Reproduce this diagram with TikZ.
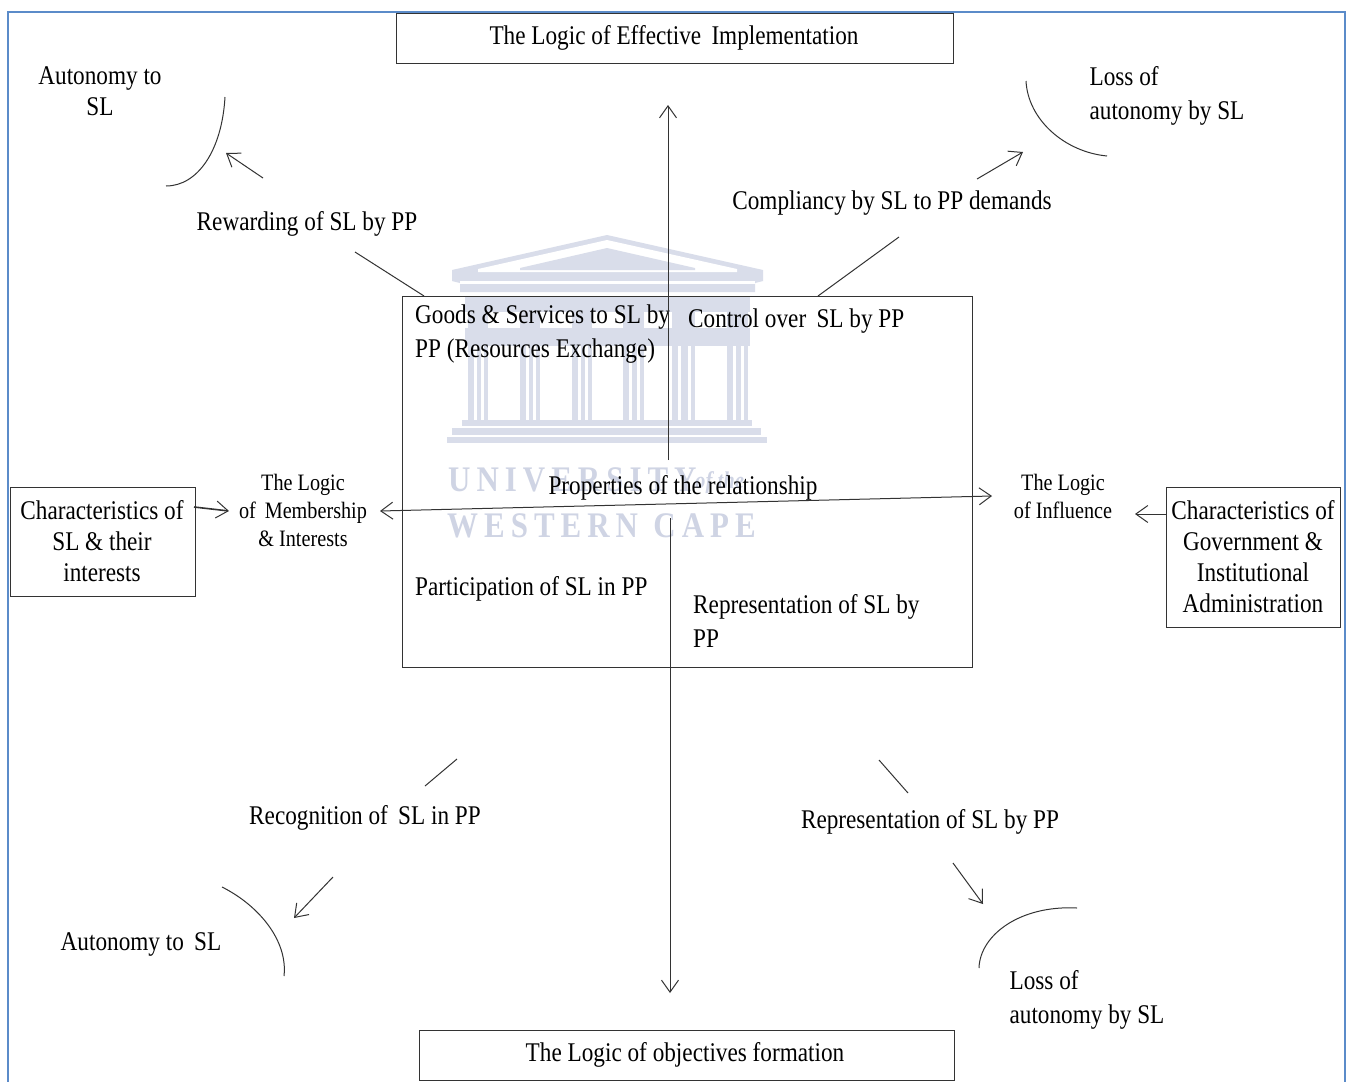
\documentclass[tikz,border=0pt]{standalone}
\usepackage{fontspec}
\setmainfont[FakeStretch=0.86]{Liberation Serif}
\usetikzlibrary{arrows.meta}
\definecolor{wm}{HTML}{D9DDEA}
\definecolor{wmtxt}{HTML}{CFD4E4}
\definecolor{frameblue}{HTML}{5B8BC9}
\definecolor{ink}{HTML}{333333}
\tikzset{
  lbl/.style={text=black,inner sep=0pt,align=left,font=\fontsize{27}{34}\selectfont},
  lblc/.style={text=black,inner sep=0pt,align=center,font=\fontsize{27}{31}\selectfont},
  small/.style={text=black,inner sep=0pt,align=center,font=\fontsize{23.5}{28}\selectfont},
  boxed/.style={draw=ink,line width=1pt,inner sep=0pt,anchor=north west},
  conn/.style={draw=ink,line width=1pt},
  arr/.style={conn,-{Straight Barb[length=12pt,width=17pt,line width=1pt]}},
  darr/.style={conn,{Straight Barb[length=12pt,width=17pt,line width=1pt]}-{Straight Barb[length=12pt,width=17pt,line width=1pt]}},
  curve/.style={draw=ink,line width=1pt},
  wmfill/.style={fill=wm,draw=none},
  wmt/.style={text=wmtxt,inner sep=0pt,font=\fontsize{36}{36}\selectfont\bfseries}
}
\begin{document}
\begin{tikzpicture}[x=1pt,y=-1pt]
\useasboundingbox (0,0) rectangle (1350,1082);
\fill[white] (0,0) rectangle (1350,1082);
% watermark
\fill[wm] (452,270) -- (607,235) -- (763,270) -- (763,281) -- (755,283) -- (755,292) -- (460,292) -- (460,283) -- (452,281) -- cycle;
\fill[white] (478,269) -- (607,240) -- (737,269) -- (737,272) -- (478,272) -- cycle;
\fill[wm] (520,268) -- (607,248) -- (695,268) -- (695,270) -- (520,270) -- cycle;
\fill[white] (460,281) rectangle (755,284);
\foreach \a/\b in {468/488,520/540,572/592,623/644,672/695,727/748}{
  \fill[wm] (\a,297) rectangle (\b,420);
  \fill[white] (\a+6,345) rectangle (\a+9,420);
  \fill[white] (\b-7,345) rectangle (\b-4,420);
}
\fill[wm] (465,297) rectangle (750,312);
\fill[wm] (465,328) rectangle (750,346);
\fill[wm] (462,420) rectangle (752,426);
\fill[wm] (452,428) rectangle (761,435);
\fill[wm] (447,437) rectangle (767,443);
\node[wmt,anchor=west] (w1) at (448,480) {U\,N\,I\,V\,E\,R\,S\,I\,T\,Y};
\node[wmt,anchor=west,font=\fontsize{24}{24}\selectfont\itshape\bfseries] (w1b) at (695,483) {of the};
\node[wmt,anchor=west] (w2) at (447,526) {W\,E\,S\,T\,E\,R\,N\ \ C\,A\,P\,E};
% frame
\draw[frameblue,line width=1.2pt] (8,1082) -- (8,12) -- (1345,12) -- (1345,1082);
% boxes
\node[boxed,minimum width=557pt,minimum height=50pt] (top) at (396,13) {};
\node[lblc] at (674,38) {The Logic of Effective\, Implementation};
\node[boxed,minimum width=535pt,minimum height=50pt] (bot) at (419,1030) {};
\node[lblc] at (685,1055) {The Logic of objectives formation};
\node[boxed,minimum width=570pt,minimum height=371pt] (mid) at (402,296) {};
\node[boxed,minimum width=185pt,minimum height=109pt] (lbox) at (10,487) {};
\node[lblc] at (102,541) {Characteristics of\\SL \& their\\interests};
\node[boxed,minimum width=174pt,minimum height=140pt] (rbox) at (1166,487) {};
\node[lblc] at (1253,557) {Characteristics of\\Government \&\\Institutional\\Administration};
% labels
\node[lblc] at (100,91) {Autonomy to\\SL};
\node[lbl] at (1167,96) {Loss of\\autonomy by SL};
\node[lbl] (rew) at (307,224) {Rewarding of SL by PP};
\node[lbl] (comp) at (892,203) {Compliancy by SL to PP demands};
\node[lbl,anchor=north west] at (415,305) {Goods \& Services to SL by\\PP (Resources Exchange)};
\node[lbl,anchor=west] at (688,321) {Control over\, SL by PP};
\node[lbl] at (683,488) {Properties of the relationship};
\node[small] (lm) at (303,510) {The Logic\\of\, Membership\\\& Interests};
\node[small] (li) at (1063,496) {The Logic\\of Influence};
\node[lbl,anchor=west] at (415,589) {Participation of SL in PP};
\node[lbl,anchor=north west] at (693,594) {Representation of SL by\\PP};
\node[lbl] (rec) at (365,818) {Recognition of\, SL in PP};
\node[lbl] (rep) at (930,822) {Representation of SL by PP};
\node[lbl] at (141,944) {Autonomy to\, SL};
\node[lbl] at (1087,1000) {Loss of\\autonomy by SL};
% free ends
\coordinate (vtop) at (668,105);
\coordinate (vtopb) at (668,460);
\coordinate (vbota) at (670,518);
\coordinate (vbot) at (670,993);
\coordinate (hl) at (380,511);
\coordinate (hr) at (992,496);
\coordinate (a1) at (263,178); \coordinate (a2) at (226,153);
\coordinate (a3) at (977,179); \coordinate (a4) at (1023,152);
\coordinate (a5) at (333,877); \coordinate (a6) at (294,918);
\coordinate (a7) at (953,863); \coordinate (a8) at (983,904);
\coordinate (s1) at (355,252); \coordinate (s2) at (424,296);
\coordinate (s3) at (899,237); \coordinate (s4) at (818,296);
\coordinate (s5) at (457,759); \coordinate (s6) at (425,786);
\coordinate (s7) at (879,760); \coordinate (s8) at (908,793);
\coordinate (la) at (194,507); \coordinate (lb) at (229,511);
\coordinate (ra) at (1166,514); \coordinate (rb) at (1135,514);
% connectors
\draw[arr] (vtopb) -- (vtop);
\draw[arr] (vbota) -- (vbot);
\draw[darr] (hl) -- (hr);
\draw[arr] (a1) -- (a2);
\draw[arr] (a3) -- (a4);
\draw[arr] (a5) -- (a6);
\draw[arr] (a7) -- (a8);
\draw[conn] (s1) -- (s2);
\draw[conn] (s3) -- (s4);
\draw[conn] (s5) -- (s6);
\draw[conn] (s7) -- (s8);
\draw[arr,line width=1.6pt] (la) -- (lb);
\draw[arr] (ra) -- (rb);
% curves
\draw[curve] (225,97) .. controls (222,150) and (198,186) .. (166,186);
\draw[curve] (1026,81) .. controls (1028,120) and (1065,152) .. (1107,156);
\draw[curve] (222,887) .. controls (258,905) and (288,940) .. (284,976);
\draw[curve] (979,968) .. controls (980,935) and (1020,905) .. (1077,908);
\end{tikzpicture}
\end{document}
